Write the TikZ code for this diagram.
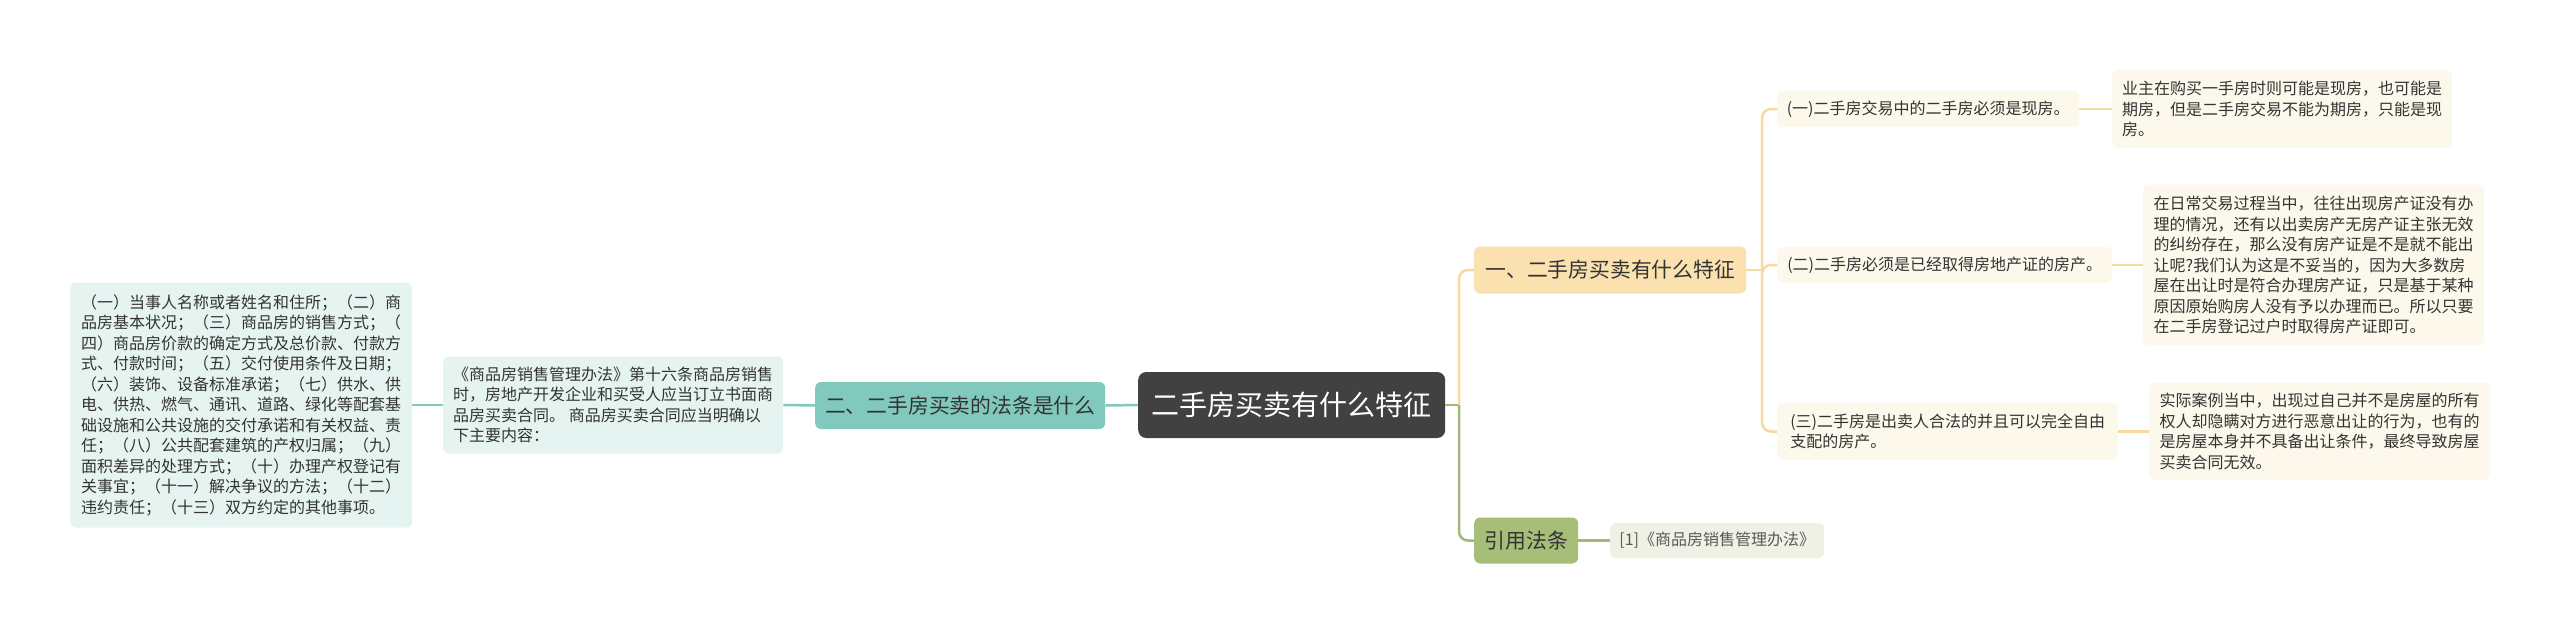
\documentclass[tikz,border=0pt]{standalone}
\usepackage{fontspec}
\setmainfont{Noto Sans CJK SC}
\usetikzlibrary{calc}
\definecolor{rootfill}{HTML}{414141}
\definecolor{tealfill}{HTML}{80C9BC}
\definecolor{tealleaf}{HTML}{E6F4F1}
\definecolor{tealline}{HTML}{80C9BC}
\definecolor{orfill}{HTML}{FAE1AF}
\definecolor{orleaf}{HTML}{FDF8EC}
\definecolor{orline}{HTML}{F8D9A0}
\definecolor{grfill}{HTML}{A7BE78}
\definecolor{grleaf}{HTML}{EFF1E5}
\definecolor{grline}{HTML}{A3B877}
\definecolor{txt}{HTML}{333333}
\tikzset{
  base/.style={anchor=west, rounded corners=6pt, inner sep=0pt, align=left, text=txt},
  rootbox/.style={base, fill=rootfill, text=white, rounded corners=8pt, font=\fontsize{28}{34}\selectfont},
  lvone/.style={base, font=\fontsize{20.8}{26}\selectfont},
  leaf/.style={base, font=\fontsize{16}{20.5}\selectfont},
  conn/.style={line width=2.5pt, rounded corners=9pt},
}
\begin{document}
\begin{tikzpicture}[x=1pt,y=-1pt]
\useasboundingbox[fill=white] (0,0) rectangle (2560,635);

% root
\node[rootbox, minimum width=307pt, minimum height=66pt] (root) at (1138,405) {二手房买卖有什么特征};

% level one
\node[lvone, fill=orfill, minimum width=272pt, minimum height=47pt] (La) at (1474,270) {一、二手房买卖有什么特征};
\node[lvone, fill=tealfill, minimum width=290pt, minimum height=47pt] (Lb) at (815,405.5) {二、二手房买卖的法条是什么};
\node[lvone, fill=grfill, minimum width=104pt, minimum height=46pt] (Lc) at (1474,540.5) {引用法条};

% right leaves
\node[leaf, fill=orleaf, minimum width=302pt, minimum height=36pt] (a1) at (1777,109) {(一)二手房交易中的二手房必须是现房。};
\node[leaf, fill=orleaf, minimum width=340pt, minimum height=78pt] (a1d) at (2112,109) {业主在购买一手房时则可能是现房，也可能是\\期房，但是二手房交易不能为期房，只能是现\\房。};
\node[leaf, fill=orleaf, minimum width=335pt, minimum height=36pt] (a2) at (1777,265) {(二)二手房必须是已经取得房地产证的房产。};
\node[leaf, fill=orleaf, minimum width=341pt, minimum height=161pt] (a2d) at (2143,265) {在日常交易过程当中，往往出现房产证没有办\\理的情况，还有以出卖房产无房产证主张无效\\的纠纷存在，那么没有房产证是不是就不能出\\让呢?我们认为这是不妥当的，因为大多数房\\屋在出让时是符合办理房产证，只是基于某种\\原因原始购房人没有予以办理而已。所以只要\\在二手房登记过户时取得房产证即可。};
\node[leaf, fill=orleaf, minimum width=341pt, minimum height=57pt] (a3) at (1777,431.5) {(三)二手房是出卖人合法的并且可以完全自由\\支配的房产。};
\node[leaf, fill=orleaf, minimum width=341pt, minimum height=97pt] (a3d) at (2149,431.5) {实际案例当中，出现过自己并不是房屋的所有\\权人却隐瞒对方进行恶意出让的行为，也有的\\是房屋本身并不具备出让条件，最终导致房屋\\买卖合同无效。};

% left leaves
\node[leaf, fill=tealleaf, minimum width=340pt, minimum height=97pt] (b1) at (443,405) {《商品房销售管理办法》第十六条商品房销售\\时，房地产开发企业和买受人应当订立书面商\\品房买卖合同。 商品房买卖合同应当明确以\\下主要内容：};
\node[leaf, fill=tealleaf, minimum width=342pt, minimum height=245pt] (b1d) at (70,405) {（一）当事人名称或者姓名和住所；（二）商\\品房基本状况；（三）商品房的销售方式；（\\四）商品房价款的确定方式及总价款、付款方\\式、付款时间；（五）交付使用条件及日期；\\（六）装饰、设备标准承诺；（七）供水、供\\电、供热、燃气、通讯、道路、绿化等配套基\\础设施和公共设施的交付承诺和有关权益、责\\任；（八）公共配套建筑的产权归属；（九）\\面积差异的处理方式；（十）办理产权登记有\\关事宜；（十一）解决争议的方法；（十二）\\违约责任；（十三）双方约定的其他事项。};

% ref leaf
\node[leaf, fill=grleaf, text=black!65, minimum width=214pt, minimum height=35pt] (c1) at (1610,540.5) {[1]《商品房销售管理办法》};

% trunk coordinates
\coordinate (tr) at (1459,405);
\coordinate (ta) at (1762,270);

% connectors
\draw[conn, grline] (root.east) -- (tr);
\draw[conn, orline] (tr) |- (La.west);
\draw[conn, grline] (tr) |- (Lc.west);
\draw[conn, orline] (La.east) -- (ta);
\draw[conn, orline] (ta) |- (a1.west);
\draw[conn, orline] (ta) |- (a2.west);
\draw[conn, orline] (ta) |- (a3.west);
\draw[conn, orline] (a1.east) -- (a1d.west);
\draw[conn, orline] (a2.east) -- (a2d.west);
\draw[conn, orline] (a3.east) -- (a3d.west);
\draw[conn, grline] (Lc.east) -- (c1.west);
\draw[conn, tealline] (root.west) -- (Lb.east);
\draw[conn, tealline] (Lb.west) -- (b1.east);
\draw[conn, tealline] (b1.west) -- (b1d.east);
\end{tikzpicture}
\end{document}
